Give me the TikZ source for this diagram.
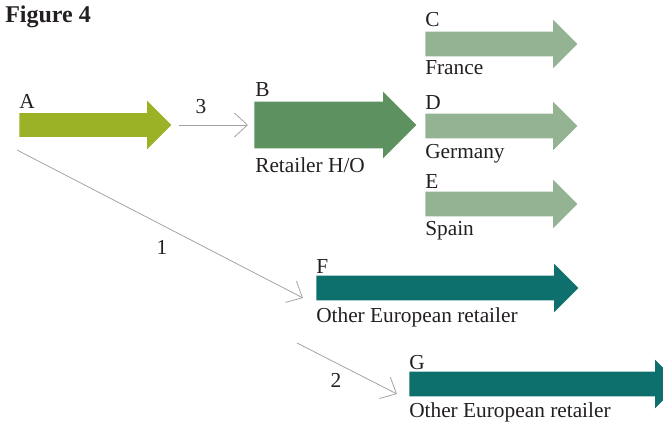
\documentclass[tikz,border=0pt]{standalone}
\usepackage{fontspec}
\setmainfont{Liberation Serif}
\usetikzlibrary{shapes.arrows, arrows.meta}

\definecolor{shootgreen}{HTML}{9BB226}
\definecolor{hogreen}{HTML}{5E9160}
\definecolor{branchgreen}{HTML}{94B393}
\definecolor{tealgreen}{HTML}{0E706C}
\definecolor{linkgray}{HTML}{A3A3A3}
\definecolor{ink}{HTML}{231F20}

\begin{document}
\begin{tikzpicture}[x=0.75pt, y=-0.75pt, font=\fontsize{16}{19}\selectfont,
    flow/.style n args={4}{single arrow, draw=none, fill=#1, inner xsep=0pt, inner ysep=#3, anchor=tail,
      minimum height=#2, single arrow head extend=#4, single arrow tip angle=90},
    tag/.style={anchor=base west, inner sep=0pt, text=ink},
    num/.style={inner sep=0pt, text=ink},
    link/.style={draw=linkgray, line width=0.6pt, -{Straight Barb[length=9.75pt, width=18pt]}}]
    \useasboundingbox (0,0) rectangle (663,424);

    % Title
    \node[tag, font=\fontsize{18}{22}\selectfont\bfseries] (title) at (5,23) {Figure 4};

    % Flow arrows
    \node[flow={shootgreen}{114pt}{8.625pt}{9.375pt}] (a) at (19,125) {};
    \node[flow={hogreen}{121.5pt}{17.25pt}{7.5pt}] (b) at (254,125) {};
    \node[flow={branchgreen}{114pt}{9pt}{9pt}] (c) at (425,44) {};
    \node[flow={branchgreen}{114pt}{9pt}{9pt}] (d) at (425,126) {};
    \node[flow={branchgreen}{114pt}{9pt}{9pt}] (e) at (425,204) {};
    \node[flow={tealgreen}{196.5pt}{9pt}{9pt}] (f) at (316,288) {};
    \node[flow={tealgreen}{202.5pt}{9pt}{9pt}] (g) at (409,384) {};

    % Letters and names
    \node[tag] (a-tag) at (19,109) {A};
    \node[tag] (b-tag) at (255,97) {B};
    \node[tag] (b-name) at (255,172) {Retailer H/O};
    \node[tag] (c-tag) at (425,27) {C};
    \node[tag] (c-name) at (425,75) {France};
    \node[tag] (d-tag) at (425,110) {D};
    \node[tag] (d-name) at (425,158) {Germany};
    \node[tag] (e-tag) at (425,188) {E};
    \node[tag] (e-name) at (425,235) {Spain};
    \node[tag] (f-tag) at (316,273) {F};
    \node[tag] (f-name) at (316,322) {Other European retailer};
    \node[tag] (g-tag) at (409,369) {G};
    \node[tag] (g-name) at (409,417) {Other European retailer};

    % Connectors
    \coordinate (a-out) at (17,150);
    \coordinate (f-in) at (303,298);
    \coordinate (f-out) at (297,343);
    \coordinate (g-in) at (397,394);
    \draw[link, shorten <=5.25pt, shorten >=4.5pt] (a.tip) -- (b.tail);
    \draw[link] (a-out) -- (f-in);
    \draw[link] (f-out) -- (g-in);
    \node[num] (n3) at (201,107) {3};
    \node[num] (n1) at (162,247) {1};
    \node[num] (n2) at (336,380) {2};
\end{tikzpicture}
\end{document}
